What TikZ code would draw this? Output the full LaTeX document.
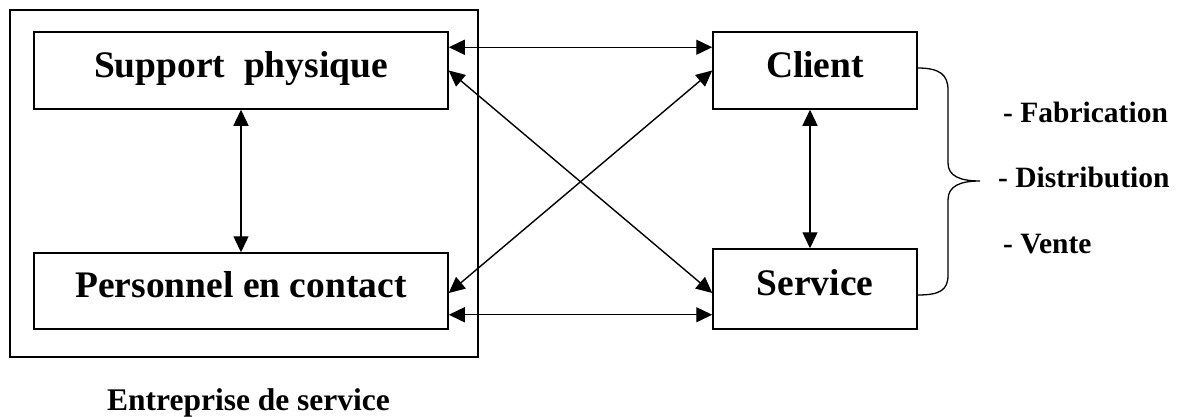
\documentclass[tikz,border=0pt]{standalone}
\usepackage{fontspec}
\setmainfont{Liberation Serif}
\usetikzlibrary{arrows.meta}
\tikzset{
  box/.style={draw, line width=1.5pt, rectangle, inner sep=0pt,
    font=\fontsize{37.5}{40}\selectfont\bfseries,
    text height=24pt, text depth=11pt},
  tipshape/.style={Triangle[length=16pt,width=15pt]},
  link/.style={line width=1.4pt, {Triangle[length=16pt,width=15pt]}-{Triangle[length=16pt,width=15pt]}},
  item/.style={anchor=base west, inner sep=0pt, font=\fontsize{29.5}{32}\selectfont\bfseries},
  caption/.style={anchor=base, inner sep=0pt, font=\fontsize{31.5}{34}\selectfont\bfseries}
}
\begin{document}
\begin{tikzpicture}[x=1pt,y=-1pt]
\useasboundingbox (0,0) rectangle (1178,416);
% company frame
\node[draw, line width=1.5pt, minimum width=468pt, minimum height=347pt, inner sep=0pt] (ent) at (244,183.5) {};
% boxes
\node[box, minimum width=414pt, minimum height=77pt] (sup) at (241,70.5) {Support\ \ physique};
\node[box, minimum width=414pt, minimum height=76pt] (per) at (241,291) {Personnel en contact};
\node[box, minimum width=204pt, minimum height=77pt] (cli) at (815,70.5) {Client};
\node[box, minimum width=204pt, minimum height=80pt] (ser) at (815,289) {Service};
% connectors
\draw[link] (sup.south) -- (per.north);
\draw[link] ([xshift=-5pt]cli.south) -- ([xshift=-5pt]ser.north);
\draw[link] ([yshift=-16pt]sup.north east) -- ([yshift=-16pt]cli.north west);
\draw[link] ([yshift=15pt]per.south east) -- ([yshift=15pt]ser.south west);
\draw[link] (sup.east) -- ([yshift=-4pt]ser.west);
\draw[link] ([yshift=-2pt]per.east) -- (cli.west);
% brace
\coordinate (tip) at (980,181);
\draw[line width=1.3pt] ([yshift=2.5pt]cli.east) .. controls (940,68) and (948,75) .. (948,90)
  -- (948,163) .. controls (948,176) and (960,181) .. (tip)
  .. controls (960,181) and (948,186) .. (948,200)
  -- (948,275) .. controls (948,290) and (940,295) .. ([yshift=-6pt]ser.east);
% labels
\node[item] (fab) at (1003,122) {- Fabrication};
\node[item] (dis) at (998,187) {- Distribution};
\node[item] (ven) at (1003,253) {- Vente};
\node[caption] (cap) at (248.5,410) {Entreprise de service};
\end{tikzpicture}
\end{document}
